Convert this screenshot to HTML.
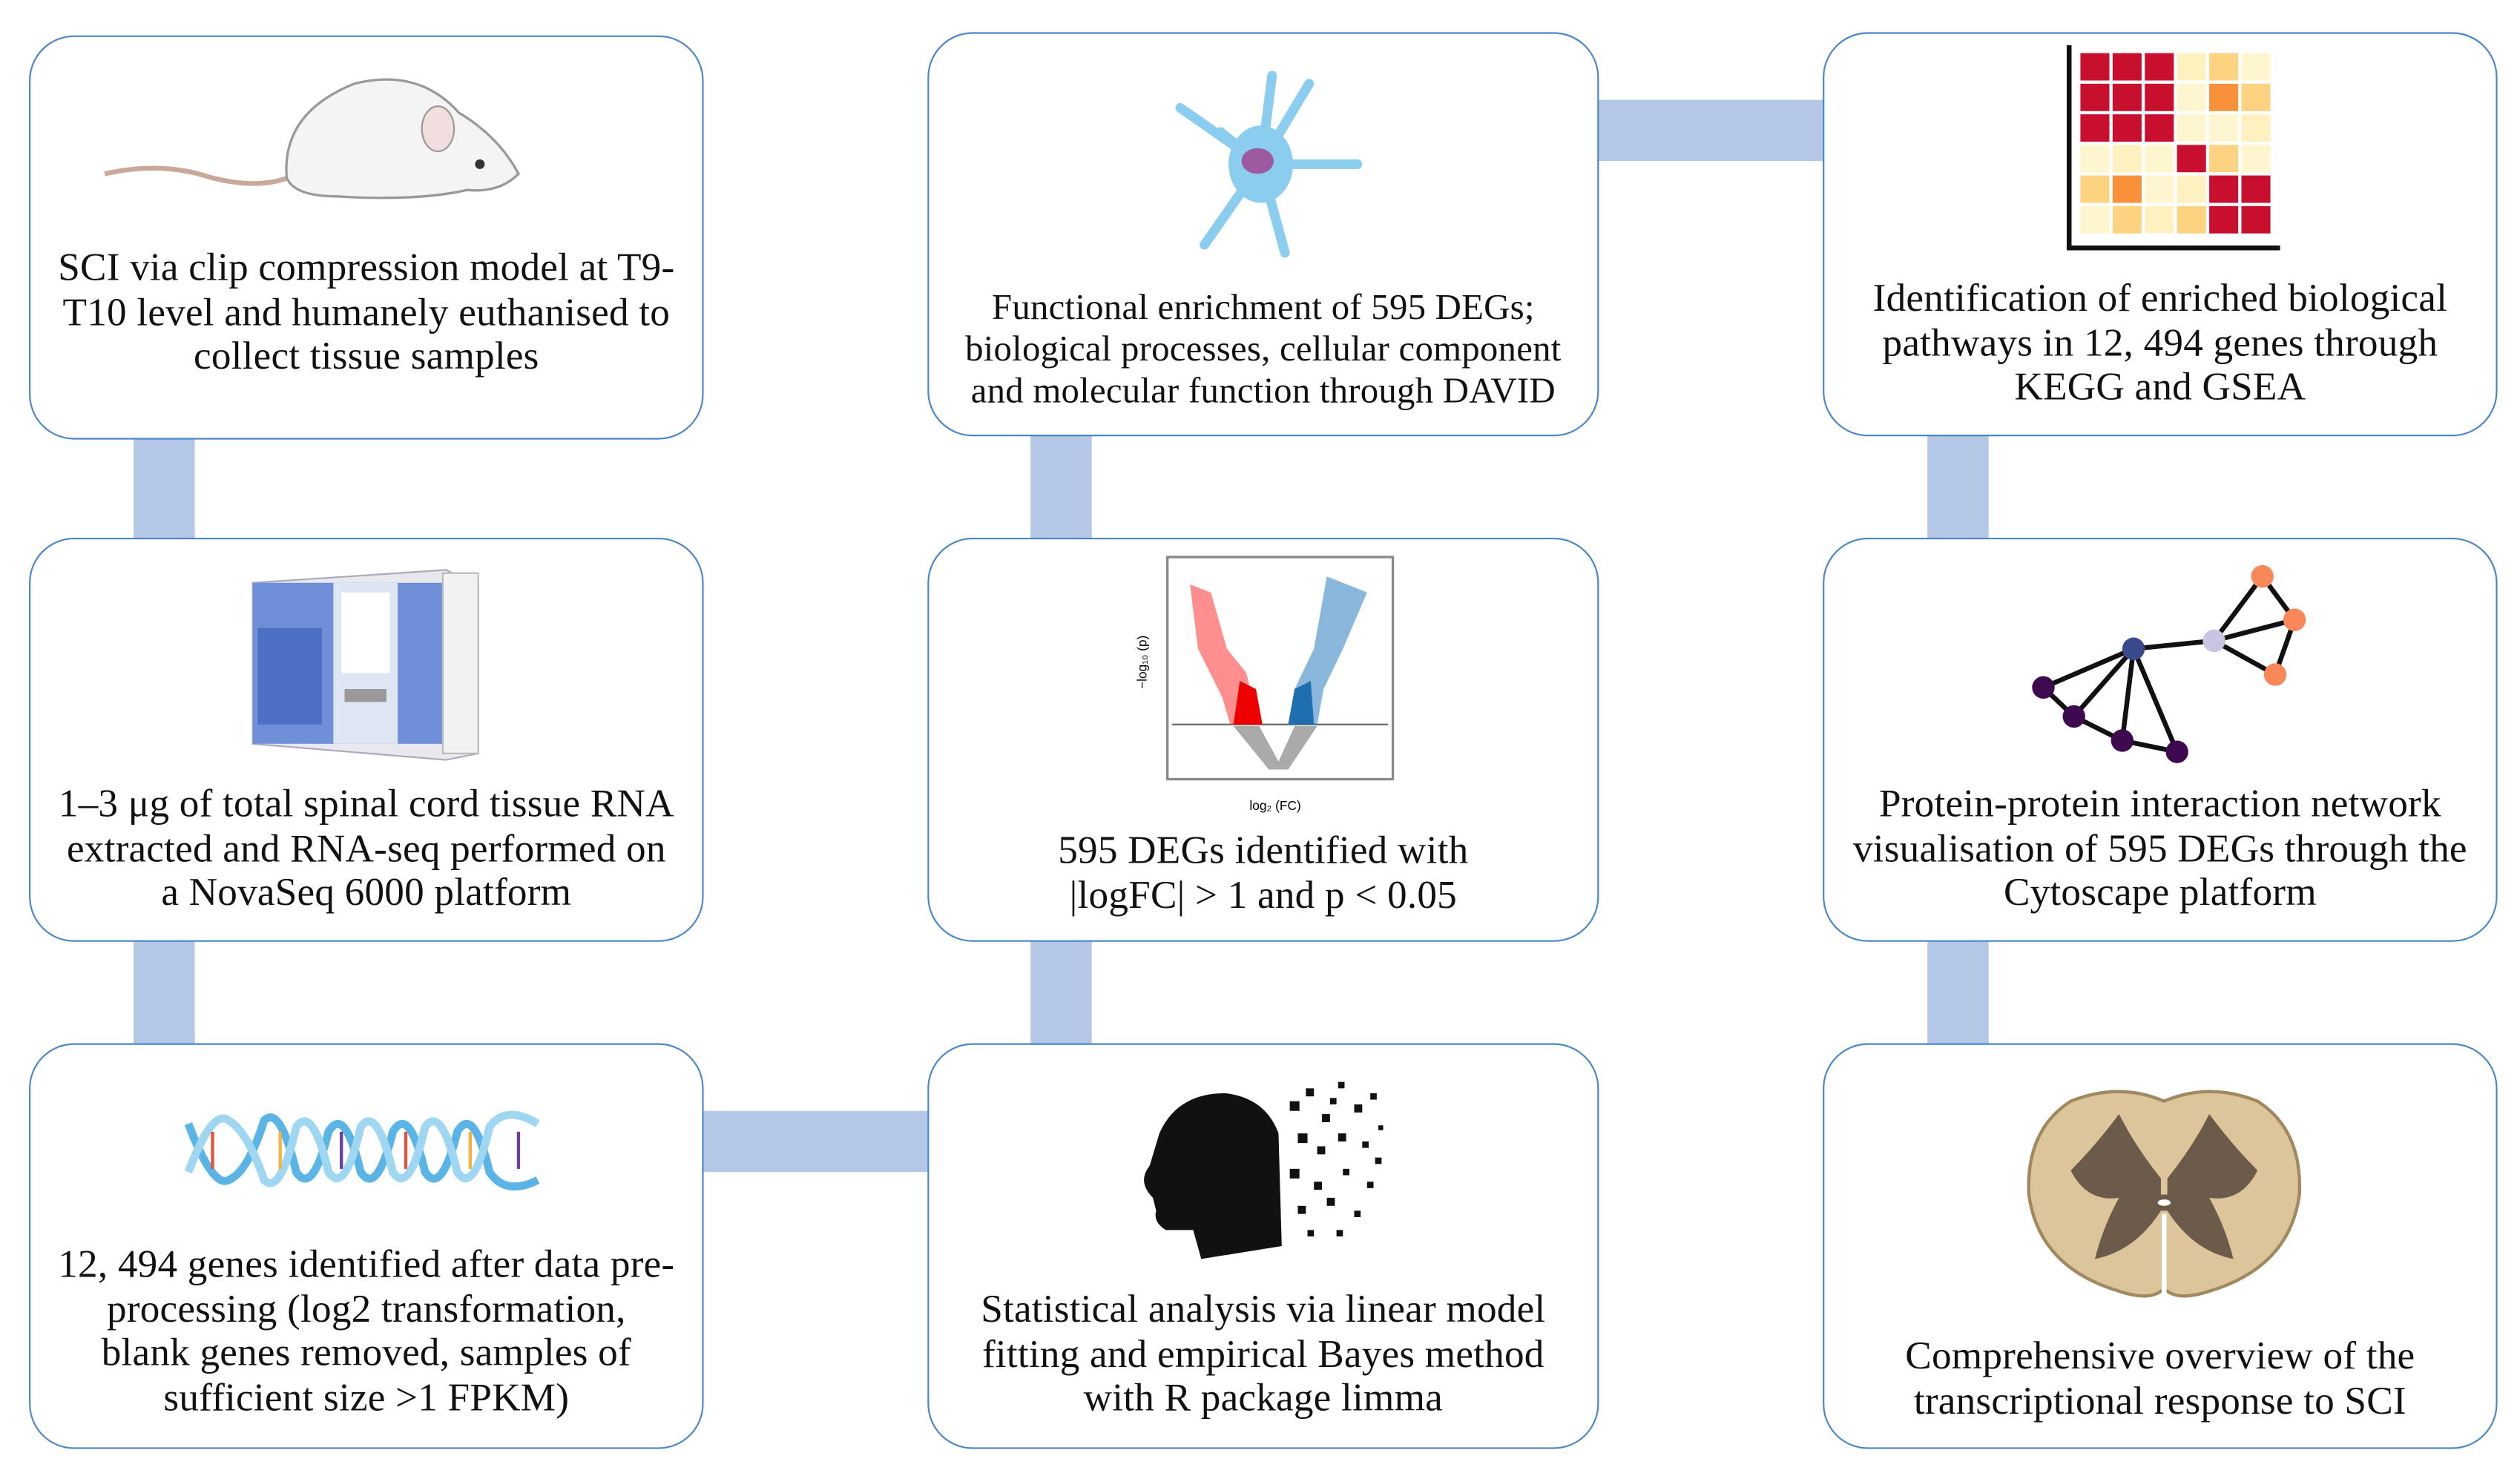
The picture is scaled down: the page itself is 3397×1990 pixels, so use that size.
<!DOCTYPE html>
<html><head><meta charset="utf-8"><style>
html,body{margin:0;padding:0;background:#fff;width:3397px;height:1990px;overflow:hidden}
#w{position:absolute;left:0;top:0;width:1565px;height:917px;transform:scale(2.1706);transform-origin:0 0;font-family:"Liberation Serif",serif;color:#111}
.b{position:absolute;border:1.3px solid #4a86c8;border-radius:28px;background:#fff;box-sizing:border-box}
.c{position:absolute;background:#b4c7e7}
.t{position:absolute;text-align:center;font-size:24.5px;line-height:27.5px;white-space:nowrap;letter-spacing:0.1px}
svg{position:absolute}
</style></head><body><div id="w">
<!-- connectors -->
<div class="c" style="left:83px;top:270px;width:38px;height:68px"></div>
<div class="c" style="left:83px;top:582px;width:38px;height:70px"></div>
<div class="c" style="left:640px;top:268px;width:38px;height:70px"></div>
<div class="c" style="left:640px;top:582px;width:38px;height:70px"></div>
<div class="c" style="left:1197px;top:268px;width:38px;height:70px"></div>
<div class="c" style="left:1197px;top:582px;width:38px;height:70px"></div>
<div class="c" style="left:990px;top:62px;width:146px;height:38px"></div>
<div class="c" style="left:434px;top:690px;width:146px;height:38px"></div>
<!-- boxes -->
<div class="b" style="left:18px;top:22px;width:419px;height:251px"></div>
<div class="b" style="left:576px;top:20px;width:417px;height:251px"></div>
<div class="b" style="left:1132px;top:20px;width:419px;height:251px"></div>
<div class="b" style="left:18px;top:334px;width:419px;height:251px"></div>
<div class="b" style="left:576px;top:334px;width:417px;height:251px"></div>
<div class="b" style="left:1132px;top:334px;width:419px;height:251px"></div>
<div class="b" style="left:18px;top:648px;width:419px;height:252px"></div>
<div class="b" style="left:576px;top:648px;width:417px;height:252px"></div>
<div class="b" style="left:1132px;top:648px;width:419px;height:252px"></div>
<!-- text -->
<div class="t" style="left:18px;width:419px;top:153px">SCI via clip compression model at T9-<br>T10 level and humanely euthanised to<br>collect tissue samples</div>
<div class="t" style="left:576px;width:417px;top:178px;font-size:22.5px;line-height:26px">Functional enrichment of 595 DEGs;<br>biological processes, cellular component<br>and molecular function through DAVID</div>
<div class="t" style="left:1132px;width:419px;top:172px">Identification of enriched biological<br>pathways in 12, 494 genes through<br>KEGG and GSEA</div>
<div class="t" style="left:18px;width:419px;top:486px">1–3 μg of total spinal cord tissue RNA<br>extracted and RNA-seq performed on<br>a NovaSeq 6000 platform</div>
<div class="t" style="left:576px;width:417px;top:515px">595 DEGs identified with<br>|logFC| &gt; 1 and p &lt; 0.05</div>
<div class="t" style="left:1132px;width:419px;top:486px">Protein-protein interaction network<br>visualisation of 595 DEGs through the<br>Cytoscape platform</div>
<div class="t" style="left:18px;width:419px;top:772px">12, 494 genes identified after data pre-<br>processing (log2 transformation,<br>blank genes removed, samples of<br>sufficient size &gt;1 FPKM)</div>
<div class="t" style="left:576px;width:417px;top:800px">Statistical analysis via linear model<br>fitting and empirical Bayes method<br>with R package limma</div>
<div class="t" style="left:1132px;width:419px;top:829px">Comprehensive overview of the<br>transcriptional response to SCI</div>
<!-- mouse -->
<svg style="left:60px;top:40px" width="280" height="110" viewBox="0 0 280 110">
<path d="M5 68 Q40 60 70 70 Q100 78 120 70" stroke="#c9a89a" stroke-width="3" fill="none"/>
<path d="M118 70 Q115 30 160 12 Q200 2 225 30 Q250 45 262 68 Q250 80 230 78 Q200 85 150 82 Q122 82 118 70Z" fill="#f4f4f4" stroke="#999" stroke-width="1.5"/>
<ellipse cx="212" cy="40" rx="10" ry="14" fill="#f3dede" stroke="#999"/>
<circle cx="238" cy="62" r="3" fill="#333"/>
</svg>
<!-- cell -->
<svg style="left:728px;top:42px" width="120" height="120" viewBox="0 0 120 120">
<g stroke="#8bcdef" stroke-width="6" stroke-linecap="round" fill="none">
<path d="M55 60 L62 5"/><path d="M55 60 L85 10"/><path d="M55 60 L5 25"/><path d="M55 60 L115 60"/><path d="M55 60 L20 110"/><path d="M55 60 L70 115"/><path d="M55 60 L30 40"/></g>
<ellipse cx="55" cy="60" rx="20" ry="24" fill="#8bcdef"/>
<ellipse cx="53" cy="58" rx="10" ry="8" fill="#9c5aa0"/>
</svg>
<!-- heatmap -->
<svg style="left:1282px;top:28px" width="136" height="132" viewBox="0 0 136 132">
<g>
<rect x="10" y="5" width="18" height="17" fill="#c8102e"/><rect x="30" y="5" width="18" height="17" fill="#c8102e"/><rect x="50" y="5" width="18" height="17" fill="#c8102e"/><rect x="70" y="5" width="18" height="17" fill="#fff2c0"/><rect x="90" y="5" width="18" height="17" fill="#fdd280"/><rect x="110" y="5" width="18" height="17" fill="#fff6d0"/>
<rect x="10" y="24" width="18" height="17" fill="#c8102e"/><rect x="30" y="24" width="18" height="17" fill="#c8102e"/><rect x="50" y="24" width="18" height="17" fill="#c8102e"/><rect x="70" y="24" width="18" height="17" fill="#fff6d0"/><rect x="90" y="24" width="18" height="17" fill="#f7923a"/><rect x="110" y="24" width="18" height="17" fill="#fdd280"/>
<rect x="10" y="43" width="18" height="17" fill="#c8102e"/><rect x="30" y="43" width="18" height="17" fill="#c8102e"/><rect x="50" y="43" width="18" height="17" fill="#c8102e"/><rect x="70" y="43" width="18" height="17" fill="#fff6d0"/><rect x="90" y="43" width="18" height="17" fill="#fff6d0"/><rect x="110" y="43" width="18" height="17" fill="#fff2c0"/>
<rect x="10" y="62" width="18" height="17" fill="#fff6d0"/><rect x="30" y="62" width="18" height="17" fill="#fff2c0"/><rect x="50" y="62" width="18" height="17" fill="#fff6d0"/><rect x="70" y="62" width="18" height="17" fill="#c8102e"/><rect x="90" y="62" width="18" height="17" fill="#fdd280"/><rect x="110" y="62" width="18" height="17" fill="#fff6d0"/>
<rect x="10" y="81" width="18" height="17" fill="#fdd280"/><rect x="30" y="81" width="18" height="17" fill="#f7923a"/><rect x="50" y="81" width="18" height="17" fill="#fff6d0"/><rect x="70" y="81" width="18" height="17" fill="#fff2c0"/><rect x="90" y="81" width="18" height="17" fill="#c8102e"/><rect x="110" y="81" width="18" height="17" fill="#c8102e"/>
<rect x="10" y="100" width="18" height="17" fill="#fff6d0"/><rect x="30" y="100" width="18" height="17" fill="#fdd280"/><rect x="50" y="100" width="18" height="17" fill="#fff2c0"/><rect x="70" y="100" width="18" height="17" fill="#fdd280"/><rect x="90" y="100" width="18" height="17" fill="#c8102e"/><rect x="110" y="100" width="18" height="17" fill="#c8102e"/>
</g>
<path d="M3 0 V126 H134" stroke="#111" stroke-width="3" fill="none"/>
</svg>
<!-- sequencer -->
<svg style="left:152px;top:350px" width="150" height="125" viewBox="0 0 150 125">
<path d="M5 12 L125 4 L145 14 L145 118 L125 122 L5 112Z" fill="#e8e8ee" stroke="#aab"/>
<rect x="5" y="12" width="118" height="100" fill="#6f8fd8"/>
<rect x="55" y="12" width="40" height="100" fill="#dfe6f3"/>
<rect x="60" y="18" width="30" height="50" fill="#fff"/>
<rect x="62" y="78" width="26" height="8" fill="#999"/>
<rect x="8" y="40" width="40" height="60" fill="#4d6fc4"/>
<rect x="123" y="6" width="22" height="112" fill="#f2f2f2" stroke="#bbb"/>
</svg>
<!-- volcano -->
<svg style="left:704px;top:343px" width="164" height="165" viewBox="0 0 164 165">
<rect x="21" y="3" width="140" height="138" fill="#fff" stroke="#888" stroke-width="1.5"/>
<line x1="24" y1="107" x2="158" y2="107" stroke="#666" stroke-width="1"/>
<path d="M62 108 L78 108 L90 130 L100 108 L114 108 L96 135 L84 135Z" fill="#aaa"/>
<path d="M60 107 L78 107 L70 75 L58 60 L48 25 L35 20 L40 60 L55 90Z" fill="#f33" opacity="0.55"/>
<path d="M96 107 L114 107 L118 85 L130 60 L145 25 L120 15 L112 60 L100 85Z" fill="#2a7bbf" opacity="0.55"/>
<path d="M62 107 L80 107 L76 85 L66 80Z" fill="#e00"/>
<path d="M96 107 L112 107 L110 80 L100 85Z" fill="#1f6fb0"/>
<text x="8" y="85" font-size="8" transform="rotate(-90 8 85)" font-family="Liberation Sans,sans-serif">−log₁₀ (p)</text>
<text x="72" y="160" font-size="8" font-family="Liberation Sans,sans-serif">log₂ (FC)</text>
</svg>
<!-- network -->
<svg style="left:1255px;top:348px" width="180" height="130" viewBox="0 0 180 130">
<g stroke="#111" stroke-width="3">
<line x1="70" y1="55" x2="14" y2="79"/><line x1="70" y1="55" x2="33" y2="97"/><line x1="70" y1="55" x2="63" y2="112"/><line x1="70" y1="55" x2="97" y2="119"/><line x1="14" y1="79" x2="33" y2="97"/><line x1="33" y1="97" x2="63" y2="112"/><line x1="63" y1="112" x2="97" y2="119"/><line x1="70" y1="55" x2="120" y2="50"/><line x1="120" y1="50" x2="150" y2="10"/><line x1="120" y1="50" x2="170" y2="37"/><line x1="120" y1="50" x2="158" y2="71"/><line x1="150" y1="10" x2="170" y2="37"/><line x1="170" y1="37" x2="158" y2="71"/></g>
<circle cx="70" cy="55" r="7" fill="#3b4a8c"/><circle cx="14" cy="79" r="7" fill="#3d0a4f"/><circle cx="33" cy="97" r="7" fill="#3d0a4f"/><circle cx="63" cy="112" r="7" fill="#3d0a4f"/><circle cx="97" cy="119" r="7" fill="#3d0a4f"/><circle cx="120" cy="50" r="7" fill="#c8c4e2"/><circle cx="150" cy="10" r="7" fill="#f8875a"/><circle cx="170" cy="37" r="7" fill="#f8875a"/><circle cx="158" cy="71" r="7" fill="#f8875a"/>
</svg>
<!-- DNA -->
<svg style="left:112px;top:688px" width="226" height="52" viewBox="0 0 226 52">
<g fill="none" stroke-width="5">
<path d="M5 10 Q20 50 30 45 Q42 40 52 8 Q62 -2 72 40 Q82 55 92 15 Q102 -2 112 40 Q122 55 132 15 Q142 -2 152 40 Q162 55 172 15 Q182 -2 192 40 Q202 55 222 45" stroke="#5ab4e5"/>
<path d="M5 40 Q20 0 30 8 Q42 15 52 45 Q62 55 72 12 Q82 -2 92 40 Q102 55 112 12 Q122 -2 132 40 Q142 55 152 12 Q162 -2 172 40 Q182 55 192 12 Q202 -2 222 10" stroke="#9fd6f2"/></g>
<g stroke-width="2"><line x1="20" y1="15" x2="20" y2="38" stroke="#e2533c"/><line x1="62" y1="15" x2="62" y2="38" stroke="#f0b53a"/><line x1="100" y1="15" x2="100" y2="38" stroke="#6b3fa0"/><line x1="140" y1="15" x2="140" y2="38" stroke="#e2533c"/><line x1="180" y1="15" x2="180" y2="38" stroke="#f0b53a"/><line x1="210" y1="15" x2="210" y2="38" stroke="#6b3fa0"/></g>
</svg>
<!-- head -->
<svg style="left:706px;top:664px" width="156" height="122" viewBox="0 0 156 122">
<path d="M10 80 Q0 70 8 60 L14 40 Q25 15 55 15 Q80 18 88 40 L90 110 L40 118 L35 100 L18 100 Q10 95 12 88Z" fill="#111"/>
<g fill="#111"><rect x="95" y="20" width="6" height="6"/><rect x="105" y="12" width="5" height="5"/><rect x="115" y="28" width="5" height="5"/><rect x="125" y="8" width="4" height="4"/><rect x="135" y="22" width="5" height="5"/><rect x="145" y="15" width="4" height="4"/><rect x="100" y="40" width="6" height="6"/><rect x="112" y="48" width="5" height="5"/><rect x="125" y="40" width="5" height="5"/><rect x="140" y="45" width="4" height="4"/><rect x="95" y="62" width="6" height="6"/><rect x="110" y="70" width="5" height="5"/><rect x="128" y="62" width="4" height="4"/><rect x="143" y="70" width="4" height="4"/><rect x="100" y="85" width="5" height="5"/><rect x="118" y="80" width="5" height="5"/><rect x="135" y="88" width="4" height="4"/><rect x="120" y="18" width="4" height="4"/><rect x="150" y="35" width="3" height="3"/><rect x="148" y="55" width="4" height="4"/><rect x="106" y="100" width="4" height="4"/><rect x="124" y="100" width="4" height="4"/></g>
</svg>
<!-- spinal cord -->
<svg style="left:1256px;top:672px" width="176" height="140" viewBox="0 0 176 140">
<path d="M88 12 Q60 0 30 12 Q2 30 4 70 Q10 115 60 130 Q78 136 86 130 L90 130 Q98 136 116 130 Q166 115 172 70 Q174 30 146 12 Q116 0 88 12Z" fill="#dcc59a" stroke="#a08860" stroke-width="2"/>
<path d="M86 60 Q70 40 60 20 Q45 40 30 55 Q40 75 60 72 Q50 90 45 110 Q70 105 86 80Z M90 60 Q106 40 116 20 Q131 40 146 55 Q136 75 116 72 Q126 90 131 110 Q106 105 90 80Z" fill="#6c5a4a"/>
<rect x="80" y="70" width="16" height="10" fill="#6c5a4a"/>
<ellipse cx="88" cy="75" rx="4" ry="2" fill="#fff"/>
<line x1="88" y1="82" x2="88" y2="132" stroke="#fff" stroke-width="3"/>
</svg>
</div></body></html>
